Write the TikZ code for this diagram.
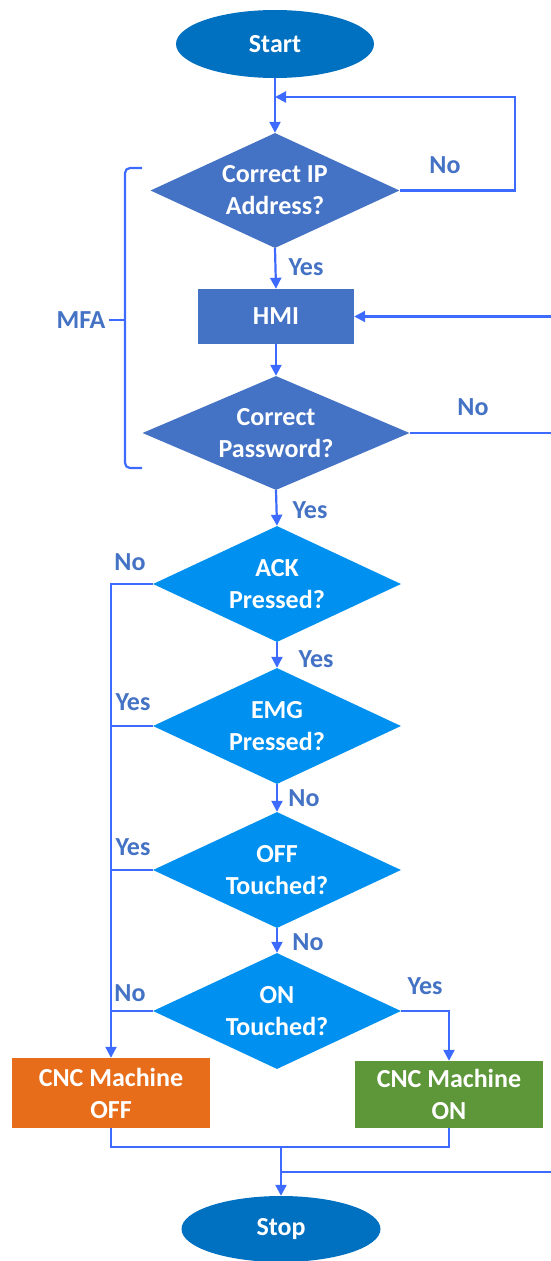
\documentclass[tikz,border=0pt]{standalone}
\usepackage{fontspec}
\setmainfont{Carlito}
\usetikzlibrary{shapes.geometric,arrows.meta}
\definecolor{lineblue}{HTML}{3D6BFF}
\definecolor{labelblue}{HTML}{4472C4}
\definecolor{darkfill}{HTML}{4472C4}
\definecolor{brightfill}{HTML}{0090F0}
\definecolor{termfill}{HTML}{0070C0}
\definecolor{offfill}{HTML}{E86D1A}
\definecolor{onfill}{HTML}{5E9739}
\tikzset{
  x=1pt, y=-1pt,
  basetext/.style={font=\fontsize{26}{32}\selectfont\bfseries, text=white, align=center, inner sep=0pt},
  terminal/.style={basetext, ellipse, fill=termfill, minimum width=198pt, minimum height=68pt},
  decision/.style={basetext, diamond, aspect=2.16, minimum width=249pt, minimum height=115pt},
  darkdec/.style={decision, fill=darkfill},
  brightdec/.style={decision, fill=brightfill, aspect=2.14, minimum width=248pt, minimum height=116pt},
  procbox/.style={basetext, rectangle},
  conn/.style={draw=lineblue, line width=2.2pt},
  arr/.style={conn, -{Triangle[length=11pt,width=11pt]}},
  lbl/.style={font=\fontsize{26}{32}\selectfont\bfseries, text=labelblue, inner sep=0pt},
}
\begin{document}
\begin{tikzpicture}
\useasboundingbox (0,0) rectangle (551,1261);

% nodes
\node[terminal] (start) at (275,44) {Start};
\node[darkdec] (ip) at (275,190.5) {Correct IP\\Address?};
\node[procbox, fill=darkfill, minimum width=156pt, minimum height=55pt] (hmi) at (276,316.5) {HMI};
\node[darkdec, aspect=2.34, minimum width=267pt, minimum height=114pt] (pw) at (276,433) {Correct\\Password?};
\node[brightdec] (ack) at (277,584) {ACK\\Pressed?};
\node[brightdec] (emg) at (277,726) {EMG\\Pressed?};
\node[brightdec] (off) at (277,870) {OFF\\Touched?};
\node[brightdec] (on) at (277,1011) {ON\\Touched?};
\node[procbox, fill=offfill, minimum width=198pt, minimum height=70pt] (cncoff) at (111,1093) {CNC Machine\\OFF};
\node[procbox, fill=onfill, minimum width=188pt, minimum height=67pt] (cncon) at (449,1094.5) {CNC Machine\\ON};
\node[terminal, minimum width=199pt, minimum height=66pt] (stop) at (281,1229) {Stop};

% coordinates
\coordinate (loopin) at (275,97);
\coordinate (hmiin) at (551,316.5);
\coordinate (pwout) at (551,433);
\coordinate (joinL) at (111,1147);
\coordinate (joinR) at (449,1147);
\coordinate (joinM) at (281,1147);
\coordinate (branch) at (281,1172);
\coordinate (branchout) at (551,1172);

% connectors
\draw[arr] (start.south) -- (ip.north);
\draw[arr] (ip.east) -- (515,190.5) -- (515,97) -- (loopin);
\draw[arr] (ip.south) -- (hmi.north);
\draw[arr] (hmiin) -- (hmi.east);
\draw[arr] (hmi.south) -- (pw.north);
\draw[conn] (pw.east) -- (pwout);
\draw[arr] (pw.south) -- (ack.north);
\draw[arr] (ack.south) -- (emg.north);
\draw[arr] (emg.south) -- (off.north);
\draw[arr] (off.south) -- (on.north);
\draw[arr] (ack.west) -| (cncoff.north);
\draw[conn] (emg.west) -- (emg.west -| cncoff.north);
\draw[conn] (off.west) -- (off.west -| cncoff.north);
\draw[conn] (on.west) -- (on.west -| cncoff.north);
\draw[arr] (on.east) -| (cncon.north);
\draw[conn] (cncoff.south) -- (joinL) -- (joinR) -- (cncon.south);
\draw[arr] (joinM) -- (stop.north);
\draw[conn] (branch) -- (branchout);

% MFA brace
\draw[conn, rounded corners=5pt] (142,168) -| (125,468) -- (142,468);
\draw[conn] (125,320) -- (109,320);
\node[lbl] (mfa) at (81,320) {MFA};

% labels
\node[lbl] (l1) at (445,165) {No};
\node[lbl] (l2) at (306,267) {Yes};
\node[lbl] (l3) at (473,407) {No};
\node[lbl] (l4) at (310,510) {Yes};
\node[lbl] (l5) at (130,562) {No};
\node[lbl] (l6) at (316,659) {Yes};
\node[lbl] (l7) at (133,702) {Yes};
\node[lbl] (l8) at (304,798) {No};
\node[lbl] (l9) at (133,847) {Yes};
\node[lbl] (l10) at (308,942) {No};
\node[lbl] (l11) at (130,993) {No};
\node[lbl] (l12) at (425,986) {Yes};
\end{tikzpicture}
\end{document}
